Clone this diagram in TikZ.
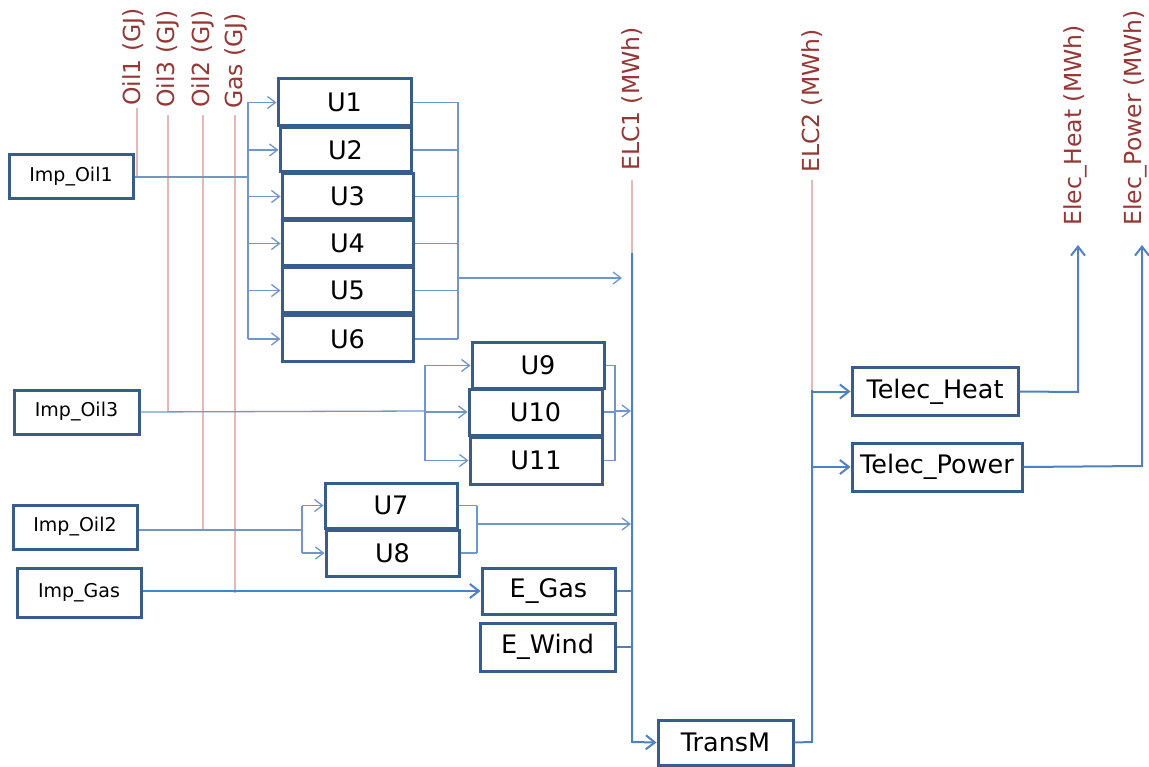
\documentclass[tikz,border=0pt]{standalone}
\usepackage{fontspec}
\setmainfont{DejaVu Sans}
\usetikzlibrary{arrows.meta}
\definecolor{boxblue}{HTML}{385D8A}
\definecolor{thinblue}{HTML}{7196CB}
\definecolor{thickblue}{HTML}{4F81BD}
\definecolor{pinkline}{HTML}{E6B9B8}
\definecolor{labred}{HTML}{953735}
\begin{document}
\begin{tikzpicture}[x=1pt,y=-1pt,
  bigbox/.style={draw=boxblue,line width=3pt,fill=white,inner sep=0pt,font=\fontsize{25.5}{27}\selectfont},
  impbox/.style={draw=boxblue,line width=3pt,fill=white,inner sep=0pt,font=\fontsize{19}{21}\selectfont},
  vlab/.style={rotate=90,anchor=west,inner sep=0pt,text=labred,font=\fontsize{23.5}{25}\selectfont},
  thinc/.style={draw=thinblue,line width=1.3pt},
  thickc/.style={draw=thickblue,line width=2pt},
  pinkc/.style={draw=pinkline,line width=2pt},
  thinarr/.style={thinc,-{Straight Barb[length=8pt,width=12pt,line width=1.3pt]}},
  thickarr/.style={thickc,-{Straight Barb[length=9pt,width=14pt,line width=2pt]}},
]
\useasboundingbox (0,0) rectangle (1149,767);

% ---- vertical labels ----
\node[vlab] (Loil1) at (134,106) {Oil1 (GJ)};
\node[vlab] (Loil3) at (168,108) {Oil3 (GJ)};
\node[vlab] (Loil2) at (203,108) {Oil2 (GJ)};
\node[vlab] (Lgas)  at (236,109) {Gas (GJ)};
\node[vlab] (Lelc1) at (632,171) {ELC1 (MWh)};
\node[vlab] (Lelc2) at (812,173) {ELC2 (MWh)};
\node[vlab] (Lheat) at (1075,226) {Elec\_Heat (MWh)};
\node[vlab] (Lpow)  at (1135,226) {Elec\_Power (MWh)};

% ---- boxes ----
\node[impbox,minimum width=124,minimum height=44] (ImpOil1) at (71,177) {Imp\_Oil1};
\node[impbox,minimum width=125,minimum height=44] (ImpOil3) at (76.5,412) {Imp\_Oil3};
\node[impbox,minimum width=124,minimum height=44] (ImpOil2) at (75,527) {Imp\_Oil2};
\node[impbox,minimum width=124,minimum height=49] (ImpGas) at (79,592.5) {Imp\_Gas};

\node[bigbox,minimum width=133,minimum height=47] (U1) at (344.5,102.5) {U1};
\node[bigbox,minimum width=131,minimum height=44] (U2) at (345.5,150) {U2};
\node[bigbox,minimum width=131,minimum height=45] (U3) at (347.5,196.5) {U3};
\node[bigbox,minimum width=131,minimum height=45] (U4) at (347.5,243.5) {U4};
\node[bigbox,minimum width=131,minimum height=45] (U5) at (347.5,290.5) {U5};
\node[bigbox,minimum width=131,minimum height=46] (U6) at (347.5,339) {U6};

\node[bigbox,minimum width=132,minimum height=45] (U9) at (538,365.5) {U9};
\node[bigbox,minimum width=133,minimum height=46] (U10) at (535.5,412) {U10};
\node[bigbox,minimum width=132,minimum height=47] (U11) at (536,460.5) {U11};

\node[bigbox,minimum width=132,minimum height=45] (U7) at (391,505.5) {U7};
\node[bigbox,minimum width=133,minimum height=46] (U8) at (392.5,553) {U8};

\node[bigbox,minimum width=133,minimum height=46] (EGas) at (548.5,591) {E\_Gas};
\node[bigbox,minimum width=135,minimum height=48] (EWind) at (547.5,647) {E\_Wind};
\node[bigbox,minimum width=135,minimum height=45] (TransM) at (725.5,742.5) {TransM};
\node[bigbox,minimum width=166,minimum height=47] (TelHeat) at (935,391.5) {Telec\_Heat};
\node[bigbox,minimum width=170,minimum height=48] (TelPow) at (937,467) {Telec\_Power};

% ---- bus coordinates ----
\coordinate (busA) at (248,177);
\coordinate (busAout) at (458,278);
\coordinate (busB) at (425,411);
\coordinate (busBout) at (615,411);
\coordinate (busC) at (302,530);
\coordinate (busCout) at (477,524);
\coordinate (elc1top) at (632,180);
\coordinate (elc1mid) at (632,253);
\coordinate (elc1bot) at (632,742);
\coordinate (elc2top) at (812,180);
\coordinate (elc2mid) at (812,390);
\coordinate (elc2bot) at (812,742);
\coordinate (heatc) at (1078,392);
\coordinate (powc) at (1142,466);

% ---- pink commodity lines ----
\draw[pinkc] ([xshift=3pt,yshift=-2pt]Loil1.west) -- ([xshift=3pt]Loil1.west |- ImpOil1.east);
\draw[pinkc] ([yshift=-7pt]Loil3.west) -- (Loil3.west |- ImpOil3.east);
\draw[pinkc] ([yshift=-7pt]Loil2.west) -- (Loil2.west |- busC);
\draw[pinkc] ([xshift=-1pt,yshift=-6pt]Lgas.west) -- ([xshift=-1pt]Lgas.west |- ImpGas.east);
\draw[pinkc] (elc1top) -- (elc1mid);
\draw[pinkc] (elc2top) -- (elc2mid);

% ---- Imp_Oil1 -> U1..U6 ----
\draw[thinc] (ImpOil1.east) -- (busA);
\draw[thinc] (busA |- U1.west) -- (busA |- U6.west);
\foreach \u in {U1,U2,U3,U4,U5,U6}{
  \draw[thinarr] (busA |- \u.west) -- (\u.west);
  \draw[thinc] (\u.east) -- (busAout |- \u.east);
}
\draw[thinc] (busAout |- U1.east) -- (busAout |- U6.east);
\draw[thinarr] (busAout) -- ([xshift=-10pt]elc1mid |- busAout);

% ---- Imp_Oil3 -> U9..U11 ----
\draw[thinc] (ImpOil3.east) -- (busB);
\draw[thinc] (busB |- U9.west) -- (busB |- U11.west);
\foreach \u in {U9,U10,U11}{
  \draw[thinarr] (busB |- \u.west) -- (\u.west);
  \draw[thinc] (\u.east) -- (busBout |- \u.east);
}
\draw[thinc] (busBout |- U9.east) -- (busBout |- U11.east);
\draw[thinarr] (busBout) -- ([xshift=-1pt]elc1mid |- busBout);

% ---- Imp_Oil2 -> U7, U8 ----
\draw[thinc] (ImpOil2.east |- busC) -- (busC);
\draw[thinc] (busC |- U7.west) -- (busC |- U8.west);
\foreach \u in {U7,U8}{
  \draw[thinarr] (busC |- \u.west) -- (\u.west);
  \draw[thinc] (\u.east) -- (busCout |- \u.east);
}
\draw[thinc] (busCout |- U7.east) -- (busCout |- U8.east);
\draw[thinarr] (busCout) -- ([xshift=-1pt]elc1mid |- busCout);

% ---- Imp_Gas -> E_Gas ----
\draw[thickarr] (ImpGas.east |- EGas.west) -- (EGas.west);

% ---- ELC1 bus ----
\draw[thickc] (EGas.east) -- (elc1mid |- EGas.east);
\draw[thickc] (EWind.east) -- (elc1mid |- EWind.east);
\draw[thickarr] (elc1mid) -- (elc1bot) -- (TransM.west);

% ---- ELC2 bus ----
\draw[thickc] (TransM.east) -- (elc2bot) -- (elc2mid);
\draw[thickarr] (elc2mid |- TelHeat.west) -- (TelHeat.west);
\draw[thickarr] (elc2mid |- TelPow.west) -- (TelPow.west);

% ---- outputs ----
\draw[thickarr] (TelHeat.east) -- (heatc) -- (heatc |- 0,245);
\draw[thickarr] (TelPow.east) -- (powc) -- (powc |- 0,245);
\end{tikzpicture}
\end{document}
